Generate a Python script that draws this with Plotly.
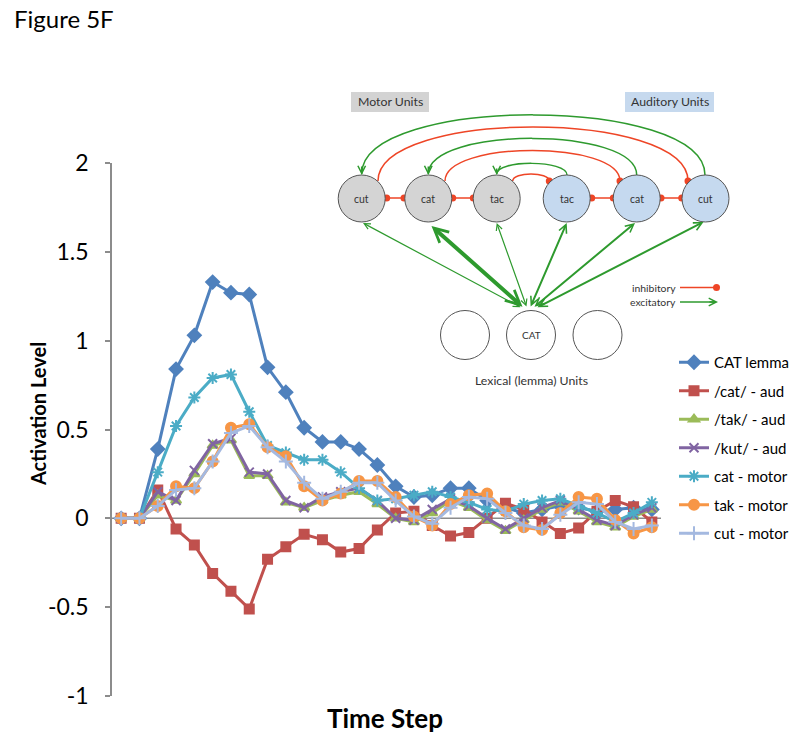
import plotly.graph_objects as go

# ---------------- data ----------------
time_steps = list(range(1, 31))
cat_lemma = [0, 0, 0.39, 0.84, 1.03, 1.33, 1.27, 1.26, 0.85, 0.71, 0.51, 0.43, 0.43, 0.39, 0.30, 0.18,
             0.12, 0.13, 0.17, 0.17, 0.10, 0.06, 0.03, 0.05, 0.07, 0.06, 0.04, 0.05, 0.06, 0.05]
cat_aud = [0, 0, 0.16, -0.06, -0.15, -0.31, -0.41, -0.51, -0.23, -0.16, -0.09, -0.12, -0.19, -0.17, -0.065,
           0.03, 0.04, -0.04, -0.10, -0.08, 0.0, 0.085, 0.05, -0.02, -0.085, -0.055, 0.04, 0.10, 0.065, -0.02]
tak_aud = [0, 0, 0.13, 0.10, 0.25, 0.41, 0.44, 0.24, 0.24, 0.09, 0.06, 0.10, 0.13, 0.15, 0.08,
           0.0, -0.02, 0.03, 0.10, 0.06, -0.01, -0.07, -0.01, 0.05, 0.09, 0.04, -0.02, -0.05, 0.01, 0.05]
kut_aud = [0, 0, 0.15, 0.10, 0.27, 0.42, 0.45, 0.26, 0.25, 0.10, 0.06, 0.12, 0.15, 0.17, 0.10,
           0.0, -0.01, 0.05, 0.11, 0.07, 0.0, -0.06, 0.0, 0.06, 0.10, 0.05, -0.01, -0.04, 0.02, 0.06]
cat_motor = [0, 0, 0.26, 0.52, 0.68, 0.79, 0.81, 0.60, 0.41, 0.37, 0.33, 0.33, 0.26, 0.17, 0.10,
             0.11, 0.13, 0.15, 0.12, 0.09, 0.05, 0.04, 0.08, 0.10, 0.11, 0.07, 0.03, -0.02, 0.03, 0.09]
tak_motor = [0, 0, 0.07, 0.18, 0.17, 0.32, 0.51, 0.53, 0.40, 0.35, 0.18, 0.10, 0.14, 0.21, 0.21,
             0.12, 0.01, -0.04, 0.08, 0.13, 0.14, 0.04, -0.05, -0.065, 0.03, 0.12, 0.11, -0.01, -0.085, -0.05]
cut_motor = [0, 0, 0.07, 0.16, 0.17, 0.32, 0.48, 0.52, 0.40, 0.32, 0.20, 0.11, 0.15, 0.20, 0.20,
             0.10, 0.01, -0.03, 0.06, 0.12, 0.11, 0.03, -0.04, -0.06, 0.02, 0.09, 0.08, -0.02, -0.06, -0.04]

series_names = ["CAT lemma", "/cat/ - aud", "/tak/ - aud", "/kut/ - aud", "cat - motor", "tak - motor", "cut - motor"]
series_values = [cat_lemma, cat_aud, tak_aud, kut_aud, cat_motor, tak_motor, cut_motor]
series_colors = ["#4F81BD", "#C0504D", "#9BBB59", "#8064A2", "#4BACC6", "#F79646", "#A4B9E0"]
series_symbols = ["diamond", "square", "triangle-up", "x-thin-open", "asterisk-open", "circle", "cross-thin-open"]
series_sizes = [10, 9, 9, 9, 10, 10, 10]

y_tickvals = [-1, -0.5, 0, 0.5, 1, 1.5, 2]
y_ticktext = ["-1", "-0.5", "0", "0.5", "1", "1.5", "2"]

FONT = "Lato"
W, H = 800, 746

def px(x):
    return x / W

def py(y):
    return 1 - y / H

fig = go.Figure()
for name, vals, col, sym, sz in zip(series_names, series_values, series_colors, series_symbols, series_sizes):
    fig.add_trace(go.Scatter(
        x=time_steps, y=vals, name=name, mode="lines+markers", legendgroup=name,
        line=dict(color=col, width=3),
        marker=dict(symbol=sym, size=sz, color=col, line=dict(color=col, width=2)),
    ))

shapes = []
annotations = []

# horizontal axis at zero
shapes.append(dict(type="line", xref="x", yref="y", x0=0.5, x1=30.5, y0=0, y1=0,
                   line=dict(color="#8C8C8C", width=1.5), layer="below"))

# ---------------- inset diagram ----------------
GREEN = "#2E9A2E"
RED = "#EE4526"
OUT = "#555555"

def circle(cx, cy, r, fill, lw=1):
    shapes.append(dict(type="circle", xref="paper", yref="paper",
                       x0=px(cx - r), x1=px(cx + r), y0=py(cy + r), y1=py(cy - r),
                       fillcolor=fill, line=dict(color=OUT, width=lw), layer="above"))

def dot(cx, cy, r=3.5):
    shapes.append(dict(type="circle", xref="paper", yref="paper",
                       x0=px(cx - r), x1=px(cx + r), y0=py(cy + r), y1=py(cy - r),
                       fillcolor=RED, line=dict(color=RED, width=0), layer="above"))

def seg(x0, y0, x1, y1, color, w=1.5):
    shapes.append(dict(type="line", xref="paper", yref="paper",
                       x0=px(x0), x1=px(x1), y0=py(y0), y1=py(y1),
                       line=dict(color=color, width=w), layer="above"))

def arc(x0, y0, x1, y1, peak, color, w=1.5):
    c = y0 - (y0 - peak) / 0.75
    path = "M {},{} C {},{} {},{} {},{}".format(px(x0), py(y0), px(x0), py(c), px(x1), py(c), px(x1), py(y1))
    shapes.append(dict(type="path", xref="paper", yref="paper", path=path,
                       line=dict(color=color, width=w), layer="above"))

def arrow(tx, ty, sx, sy, w=1.5, both=False, size=1.0):
    annotations.append(dict(x=px(tx), y=py(ty), xref="paper", yref="paper",
                            ax=sx - tx, ay=sy - ty, axref="pixel", ayref="pixel",
                            text="", showarrow=True, arrowhead=5, startarrowhead=5,
                            arrowside="end+start" if both else "end",
                            arrowsize=size, startarrowsize=size,
                            arrowwidth=w, arrowcolor=GREEN))

def label(x, y, text, size, bold=False, xanchor="center", color="#333333"):
    annotations.append(dict(x=px(x), y=py(y), xref="paper", yref="paper", text=("<b>%s</b>" % text) if bold else text,
                            showarrow=False, xanchor=xanchor, yanchor="middle",
                            font=dict(family=FONT, size=size, color=color)))

# unit boxes
shapes.append(dict(type="rect", xref="paper", yref="paper", x0=px(351), x1=px(429), y0=py(112), y1=py(92),
                   fillcolor="#D3D3D3", line=dict(width=0)))
shapes.append(dict(type="rect", xref="paper", yref="paper", x0=px(625), x1=px(714), y0=py(112), y1=py(92),
                   fillcolor="#C6D9EE", line=dict(width=0)))
label(390, 102, "Motor Units", 12.3)
label(669.5, 102, "Auditory Units", 12.3)

# arcs
arc(705, 175, 361.7, 174, 115, GREEN)
arrow(361.7, 175, 361.7, 165, w=1.5)
arc(378, 181, 688, 181, 127, RED)
dot(688, 181)
arc(636.7, 175, 428.3, 174, 138.5, GREEN)
arrow(428.3, 175, 428.3, 165, w=1.5)
arc(445, 181, 620, 181, 150.5, RED)
dot(620, 181)
arc(567, 175, 496.7, 174, 163.5, GREEN)
arrow(496.7, 175, 496.7, 167, w=1.5)
arc(512.7, 181, 549.3, 181, 174, RED)
dot(549.3, 181)

# adjacent inhibitory links
for a, b in [(386.7, 404), (452.7, 473.3), (591.7, 613.3), (661, 681.7)]:
    seg(a, 198, b, 198, RED)
    dot(a, 198)
    dot(b, 198)

# top circles
top_cx = [361.7, 428.3, 496.7, 566.7, 636.7, 705.5]
top_lab = ["cut", "cat", "tac", "tac", "cat", "cut"]
for i, (cx, lb) in enumerate(zip(top_cx, top_lab)):
    circle(cx, 198.5, 23.5, "#D4D4D4" if i < 3 else "#C5D9EF")
    label(cx, 198.5, lb, 10.5)

# lexical circles
for cx in [465, 531, 597.5]:
    circle(cx, 335, 24.5, "#FFFFFF")
label(531, 335, "CAT", 10)
label(531, 380, "Lexical (lemma) Units", 12.3)

# lexical -> phonological arrows
arrow(363, 223, 522, 308, w=1.2, both=True)
arrow(431.5, 226, 524, 308, w=4, both=True, size=0.7)
arrow(496.7, 223, 527, 308, w=1.2, both=True)
arrow(566.7, 223, 530, 308, w=2, both=True, size=0.8)
arrow(635, 223, 533, 308, w=2, both=True, size=0.8)
arrow(703.5, 222, 536, 308, w=2, both=True, size=0.8)

# diagram key
label(678, 287.5, "inhibitory", 10.4, xanchor="right")
seg(680, 287.5, 716, 287.5, RED)
dot(716.5, 287.5)
label(678, 302, "excitatory", 10.4, xanchor="right")
seg(680, 302, 714, 302, GREEN)
arrow(718, 302, 708, 302, w=1.5)

# titles
annotations.append(dict(x=px(12), y=py(18), xref="paper", yref="paper", text="Figure 5F", showarrow=False,
                        xanchor="left", yanchor="middle", font=dict(family=FONT, size=24, color="#000000")))
annotations.append(dict(x=px(38), y=py(414), xref="paper", yref="paper", text="<b>Activation Level</b>",
                        showarrow=False, textangle=-90, xanchor="center", yanchor="middle",
                        font=dict(family=FONT, size=20, color="#000000")))
annotations.append(dict(x=px(385), y=py(718), xref="paper", yref="paper", text="<b>Time Step</b>",
                        showarrow=False, xanchor="center", yanchor="middle",
                        font=dict(family=FONT, size=26, color="#000000")))

fig.update_layout(
    width=W, height=H,
    margin=dict(l=0, r=0, t=0, b=0, autoexpand=False),
    paper_bgcolor="white", plot_bgcolor="white",
    font=dict(family=FONT, color="#000000"),
    xaxis=dict(domain=[px(112), px(661)], range=[0.5, 30.5], visible=False, automargin=False),
    yaxis=dict(domain=[py(696), py(163)], range=[-1, 2], tickvals=y_tickvals, ticktext=y_ticktext,
               showline=True, linecolor="#8C8C8C", linewidth=1.5, ticks="outside", ticklen=5,
               tickcolor="#8C8C8C", tickwidth=1.5, showgrid=False, zeroline=False, automargin=False,
               tickfont=dict(family=FONT, size=23, color="#000000"), ticklabelstandoff=12),
    legend=dict(x=px(794), y=py(346), xanchor="right", yanchor="top", font=dict(family=FONT, size=15, color="#000000"),
                itemwidth=30, tracegroupgap=6, bgcolor="rgba(0,0,0,0)"),
    shapes=shapes, annotations=annotations, showlegend=True,
)

fig.write_html("out.html", config={"displayModeBar": False},
               post_script="document.body.style.margin='0px';")
